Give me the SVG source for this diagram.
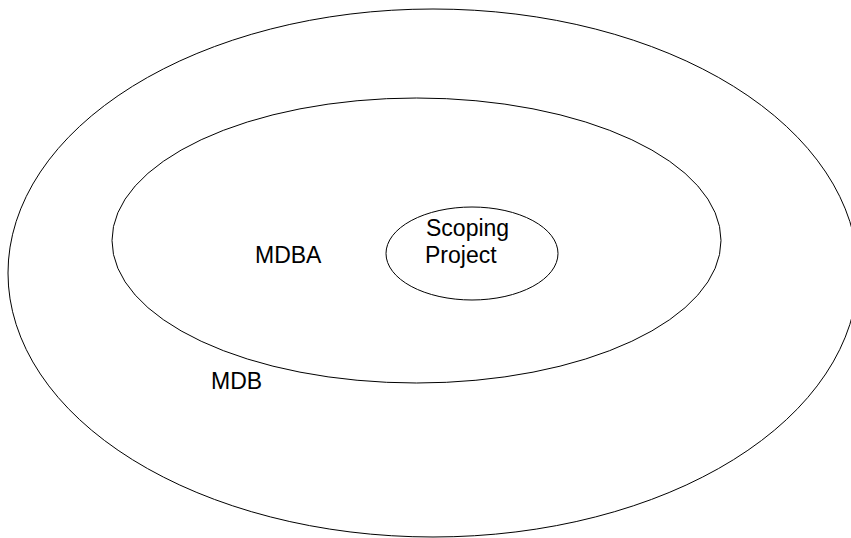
<svg xmlns="http://www.w3.org/2000/svg" width="851" height="538" viewBox="0 0 851 538">
<style>
.e{fill:none;stroke:#000;stroke-width:1}
.t{font-family:"Liberation Sans",Arial,sans-serif;font-size:23px;fill:#000}
</style>
<rect width="851" height="538" fill="#fff"/>
<g id="mdb">
<ellipse class="e" cx="433" cy="273" rx="425" ry="264"/>
<text class="t" x="211" y="389">MDB</text>
</g>
<g id="mdba">
<ellipse class="e" cx="416.5" cy="240.5" rx="304.5" ry="142.5"/>
<text class="t" x="255" y="263">MDBA</text>
</g>
<g id="scoping">
<ellipse class="e" cx="472" cy="253.5" rx="86" ry="46.5"/>
<text class="t" x="426" y="236">Scoping</text>
<text class="t" x="425" y="263">Project</text>
</g>
<g id="connectors"/>
</svg>
